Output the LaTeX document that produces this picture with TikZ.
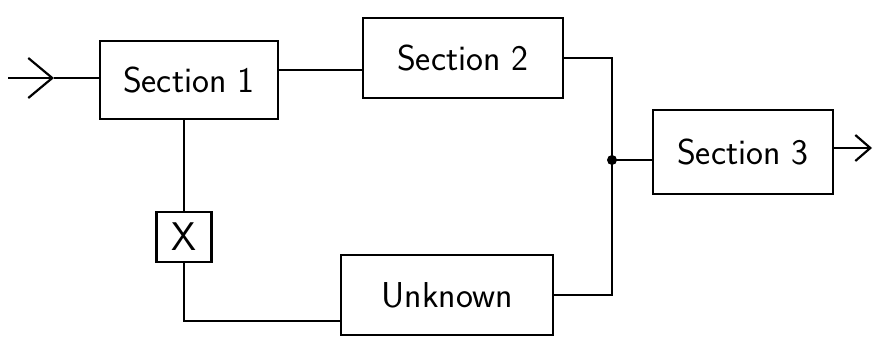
\documentclass[tikz,border=0pt]{standalone}
\usetikzlibrary{arrows.meta,calc}
\begin{document}
\begin{tikzpicture}[x=1pt,y=-1pt,line width=2.2pt,
  block/.style={draw,inner sep=0pt,font=\sffamily\fontsize{36}{40}\selectfont},
  barb/.style={-{Straight Barb[length=24pt,width=40pt,line width=2.2pt]}},
  smallbarb/.style={-{Straight Barb[length=15pt,width=26pt,line width=2.2pt]}}]
\useasboundingbox (0,0) rectangle (875,343);

% blocks
\node[block,minimum width=178pt,minimum height=78pt] (s1) at (189,80) {Section 1};
\node[block,minimum width=200pt,minimum height=80pt] (s2) at (463,58) {Section 2};
\node[block,minimum width=180pt,minimum height=84pt] (s3) at (743,152) {Section 3};
\node[block,minimum width=212pt,minimum height=80pt] (unk) at (447,295) {Unknown};
\node[block,minimum width=55pt,minimum height=50pt,font=\sffamily\fontsize{40}{44}\selectfont] (x) at (184,237) {X};

% input and output
\coordinate (in) at (8,78);
\coordinate (intip) at (54,78);
\draw[barb] (in) -- (intip);
\draw (intip) -- (intip -| s1.west);
\coordinate (out) at (872,148);
\draw[smallbarb] (s3.east |- out) -- (out);

% forward path
\coordinate (a) at ([yshift=10pt]s1.east);
\draw (a) -- (a -| s2.west);
\coordinate (j) at (612,160);
\draw (s2.east) -| (j);
\draw (unk.east) -| (j);
\draw (j) -- (j -| s3.west);
\fill (j) circle (5pt);

% side path through X
\draw (x.north |- s1.south) -- (x.north);
\draw (x.south) |- ([yshift=-26pt]unk.west);
\end{tikzpicture}
\end{document}
